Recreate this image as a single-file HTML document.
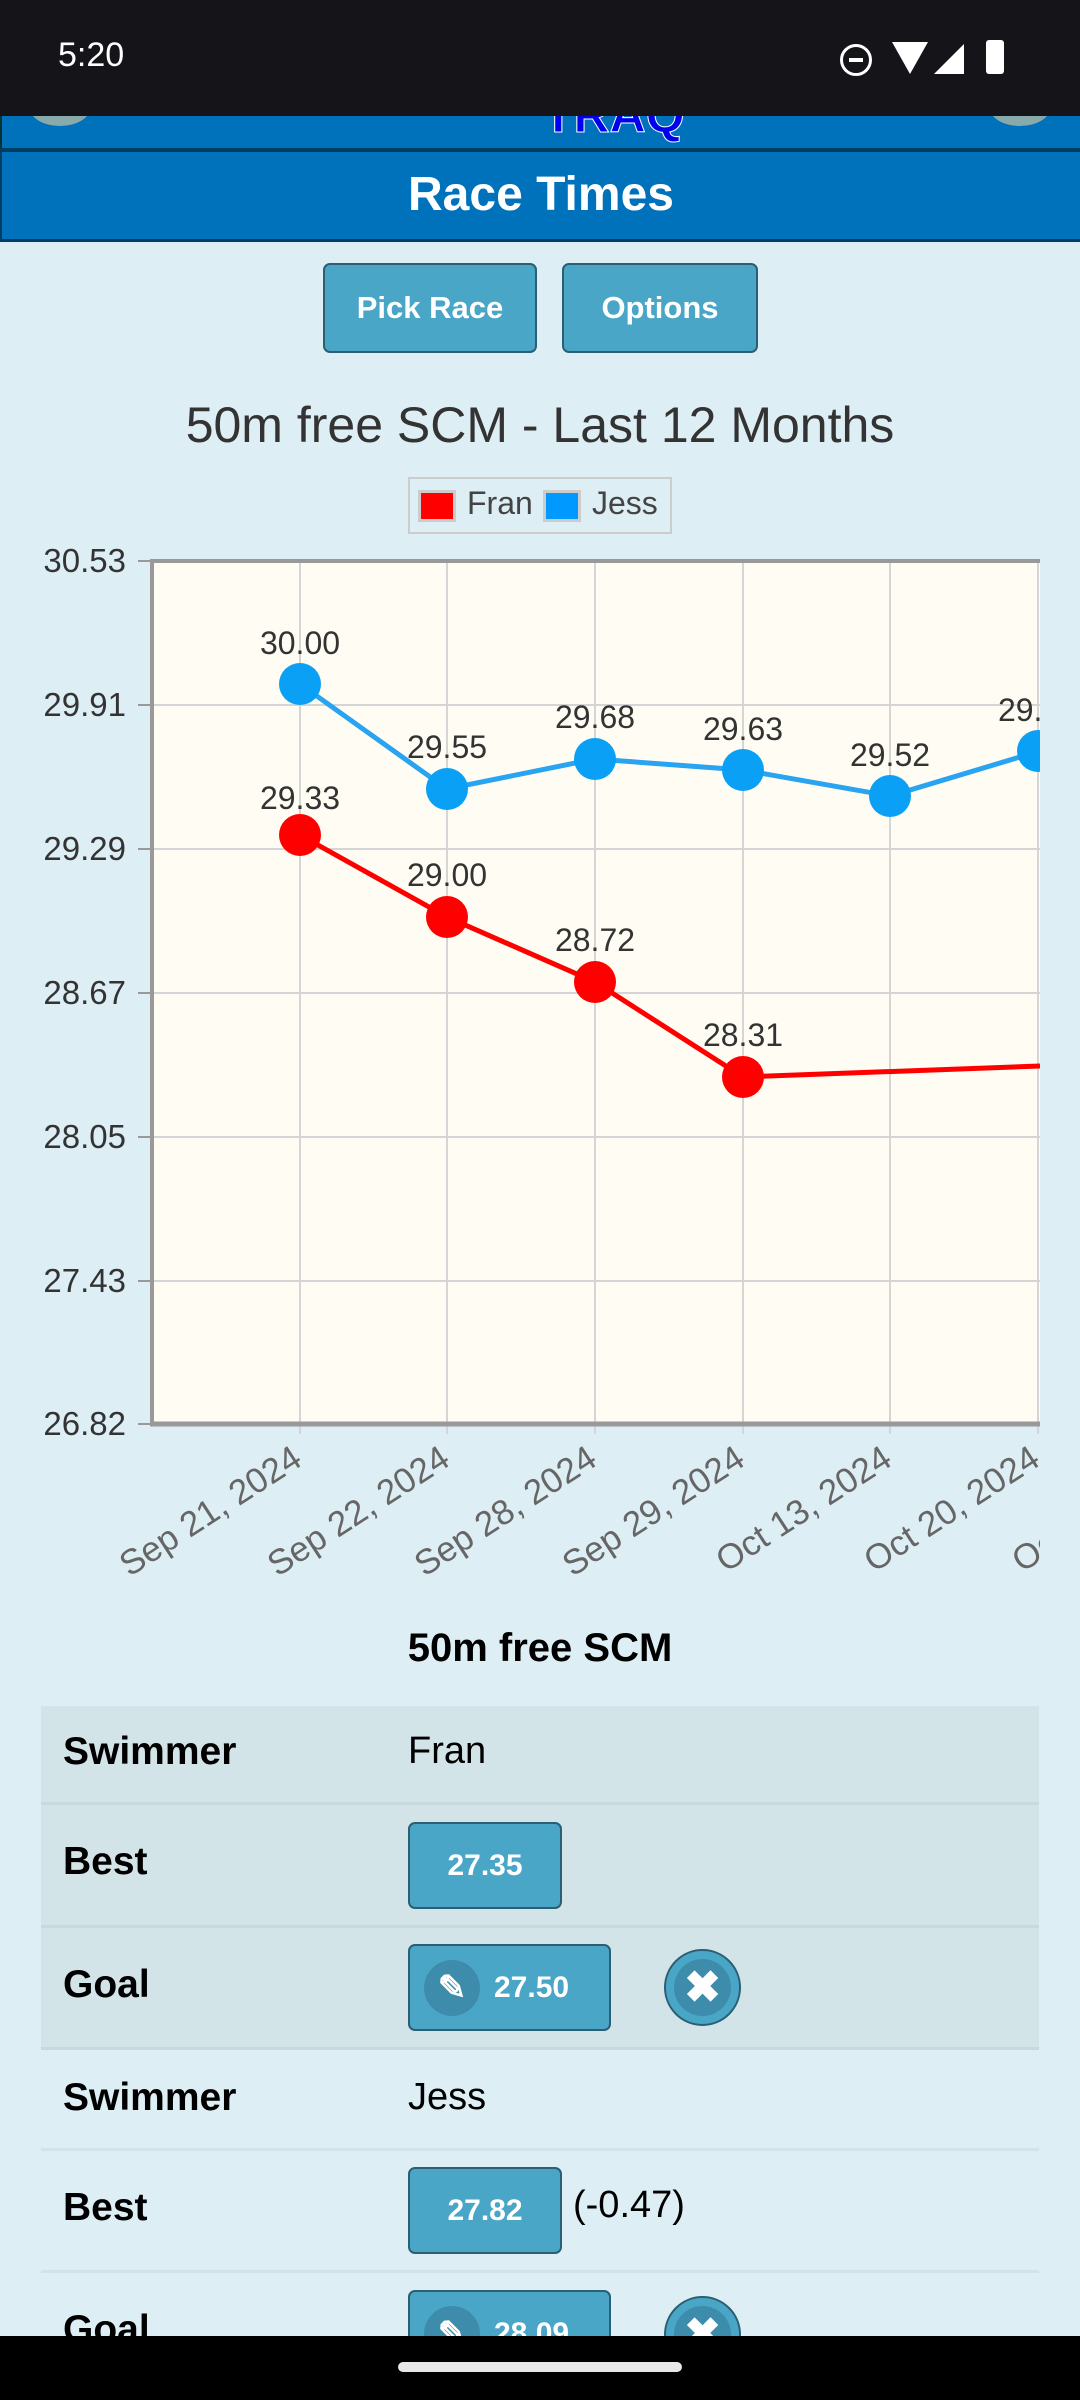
<!DOCTYPE html>
<html><head><meta charset="utf-8"><style>
*{margin:0;padding:0;box-sizing:border-box}
body{width:1080px;height:2400px;background:#deeef5;font-family:"Liberation Sans",sans-serif;position:relative;overflow:hidden}
.abs{position:absolute}
.btn{position:absolute;background:#4aa6c6;border:2px solid #2a5f74;border-radius:7px;color:#fff;font-weight:bold;display:flex;align-items:center;justify-content:center}
.lbl{position:absolute;left:63px;font-weight:bold;font-size:39px;color:#000}
.val{position:absolute;left:408px;font-size:38px;color:#000}
</style></head><body>
<div class="abs" style="left:0;top:116px;width:1080px;height:32px;background:#0072bc;border-left:2px solid #033;"></div>
<div class="abs" style="left:30px;top:90px;width:60px;height:36px;border-radius:50%;background:#8aa;"></div>
<div class="abs" style="left:990px;top:90px;width:60px;height:36px;border-radius:50%;background:#8aa;"></div>
<div class="abs" style="left:543px;top:86px;color:#0000ee;font-weight:bold;font-size:50px;-webkit-text-stroke:1px #fff">TRAQ</div>
<div class="abs" style="left:0;top:0;width:1080px;height:116px;background:#141419"></div>
<div class="abs" style="left:58px;top:36px;color:#fff;font-size:34px">5:20</div>
<div class="abs" style="left:840px;top:44px;width:32px;height:32px;border:3px solid #fff;border-radius:50%"></div>
<div class="abs" style="left:849px;top:58px;width:14px;height:4px;background:#fff"></div>
<div class="abs" style="left:892px;top:42px;width:0;height:0;border-left:18px solid transparent;border-right:18px solid transparent;border-top:32px solid #fff"></div>
<div class="abs" style="left:934px;top:44px;width:0;height:0;border-left:30px solid transparent;border-bottom:30px solid #fff"></div>
<div class="abs" style="left:986px;top:40px;width:18px;height:34px;background:#fff;border-radius:3px"></div>
<div class="abs" style="left:0;top:148px;width:1080px;height:4px;background:#003d63"></div>
<div class="abs" style="left:0;top:152px;width:1080px;height:90px;background:#0072bc;border-left:2px solid #003d63;border-bottom:3px solid #003d63;color:#fff;font-weight:bold;font-size:48px;text-align:center;line-height:86px">Race Times</div>
<div class="btn" style="left:323px;top:263px;width:214px;height:90px;font-size:31px">Pick Race</div>
<div class="btn" style="left:562px;top:263px;width:196px;height:90px;font-size:31px">Options</div>
<div class="abs" style="left:0;top:396px;width:1080px;text-align:center;font-size:50px;color:#333">50m free SCM - Last 12 Months</div>
<div class="abs" style="left:408px;top:477px;width:264px;height:57px;border:2px solid #ccc"></div>
<div class="abs" style="left:418px;top:490px;width:38px;height:32px;background:#f00;border:3px solid #ccc"></div>
<div class="abs" style="left:467px;top:485px;font-size:32px;color:#444">Fran</div>
<div class="abs" style="left:543px;top:490px;width:38px;height:32px;background:#09f;border:3px solid #ccc"></div>
<div class="abs" style="left:592px;top:485px;font-size:32px;color:#444">Jess</div>
<svg class="abs" style="left:0;top:0" width="1080" height="1600">
<defs><clipPath id="c"><rect x="0" y="0" width="1040" height="1600"/></clipPath></defs>
<rect x="152" y="561" width="888" height="863" fill="#fffcf3"/>
<g stroke="#d5d5d5" stroke-width="2">
<line x1="152" y1="705" x2="1040" y2="705"/><line x1="152" y1="849" x2="1040" y2="849"/><line x1="152" y1="993" x2="1040" y2="993"/><line x1="152" y1="1137" x2="1040" y2="1137"/><line x1="152" y1="1281" x2="1040" y2="1281"/>
<line x1="300" y1="561" x2="300" y2="1434"/><line x1="447" y1="561" x2="447" y2="1434"/><line x1="595" y1="561" x2="595" y2="1434"/><line x1="743" y1="561" x2="743" y2="1434"/><line x1="890" y1="561" x2="890" y2="1434"/><line x1="1038" y1="561" x2="1038" y2="1434"/>
</g>
<g stroke="#999" stroke-width="2">
<line x1="138" y1="561" x2="152" y2="561"/><line x1="138" y1="705" x2="152" y2="705"/><line x1="138" y1="849" x2="152" y2="849"/><line x1="138" y1="993" x2="152" y2="993"/><line x1="138" y1="1137" x2="152" y2="1137"/><line x1="138" y1="1281" x2="152" y2="1281"/><line x1="138" y1="1424" x2="152" y2="1424"/>
</g>
<line x1="152" y1="561" x2="1040" y2="561" stroke="#999" stroke-width="4"/>
<line x1="152" y1="559" x2="152" y2="1426" stroke="#999" stroke-width="4"/>
<line x1="150" y1="1424" x2="1040" y2="1424" stroke="#999" stroke-width="5"/>
<g font-size="33" fill="#333" text-anchor="end">
<text x="126" y="572">30.53</text><text x="126" y="716">29.91</text><text x="126" y="860">29.29</text><text x="126" y="1004">28.67</text><text x="126" y="1148">28.05</text><text x="126" y="1292">27.43</text><text x="126" y="1435">26.82</text>
</g>
<polyline points="300,684 447,789 595,759 743,770 890,796 1040,751" fill="none" stroke="#29a4f0" stroke-width="5"/>
<polyline points="300,835 447,917 595,982 743,1077 1040,1066" fill="none" stroke="#f00" stroke-width="5"/>
<g fill="#0aa0f5"><circle cx="300" cy="684" r="21"/><circle cx="447" cy="789" r="21"/><circle cx="595" cy="759" r="21"/><circle cx="743" cy="770" r="21"/><circle cx="890" cy="796" r="21"/><circle cx="1038" cy="751" r="21"/></g>
<g fill="#f00"><circle cx="300" cy="835" r="21"/><circle cx="447" cy="917" r="21"/><circle cx="595" cy="982" r="21"/><circle cx="743" cy="1077" r="21"/></g>
<rect x="1040" y="540" width="40" height="1000" fill="#deeef5"/>
<g font-size="32" fill="#333" text-anchor="middle" clip-path="url(#c)">
<text x="300" y="654">30.00</text><text x="447" y="758">29.55</text><text x="595" y="728">29.68</text><text x="743" y="740">29.63</text><text x="890" y="766">29.52</text><text x="1038" y="721">29.71</text>
<text x="300" y="809">29.33</text><text x="447" y="886">29.00</text><text x="595" y="951">28.72</text><text x="743" y="1046">28.31</text>
</g>
<g font-size="35" fill="#666" text-anchor="end" clip-path="url(#c)">
<text transform="translate(304,1464) rotate(-33)">Sep 21, 2024</text>
<text transform="translate(452,1464) rotate(-33)">Sep 22, 2024</text>
<text transform="translate(599,1464) rotate(-33)">Sep 28, 2024</text>
<text transform="translate(747,1464) rotate(-33)">Sep 29, 2024</text>
<text transform="translate(894,1464) rotate(-33)">Oct 13, 2024</text>
<text transform="translate(1042,1464) rotate(-33)">Oct 20, 2024</text>
<text transform="translate(1190,1464) rotate(-33)">Oct 27, 2024</text>
</g>
</svg>
<div class="abs" style="left:0;top:1626px;width:1080px;text-align:center;font-weight:bold;font-size:40px;color:#000">50m free SCM</div>
<div class="abs" style="left:41px;top:1706px;width:998px;height:342px;background:#d3e4e9"></div>
<div class="abs" style="left:41px;top:1802px;width:998px;height:3px;background:#c7d9df"></div>
<div class="abs" style="left:41px;top:1925px;width:998px;height:3px;background:#c7d9df"></div>
<div class="abs" style="left:41px;top:2047px;width:998px;height:3px;background:#c7d9df"></div>
<div class="abs" style="left:41px;top:2148px;width:998px;height:3px;background:#d3e4e9"></div>
<div class="abs" style="left:41px;top:2270px;width:998px;height:3px;background:#d3e4e9"></div>
<div class="lbl" style="top:1730px">Swimmer</div><div class="val" style="top:1730px">Fran</div>
<div class="lbl" style="top:1840px">Best</div>
<div class="btn" style="left:408px;top:1822px;width:154px;height:87px;font-size:30px">27.35</div>
<div class="lbl" style="top:1963px">Goal</div>
<div class="btn" style="left:408px;top:1944px;width:203px;height:87px;font-size:30px;justify-content:flex-start;padding-left:14px"><span style="width:56px;height:56px;border-radius:50%;background:#3d8cab;display:inline-flex;align-items:center;justify-content:center;font-size:34px;margin-right:14px">✎</span>27.50</div>
<div class="abs" style="left:664px;top:1949px;width:77px;height:77px;border-radius:50%;background:#4aa6c6;border:2px solid #2a5f74;display:flex;align-items:center;justify-content:center"><div style="width:57px;height:57px;border-radius:50%;background:#3d8cab;color:#fff;font-weight:bold;font-size:44px;text-align:center;line-height:57px">✖</div></div>
<div class="lbl" style="top:2076px">Swimmer</div><div class="val" style="top:2076px">Jess</div>
<div class="lbl" style="top:2186px">Best</div>
<div class="btn" style="left:408px;top:2167px;width:154px;height:87px;font-size:30px">27.82</div>
<div class="val" style="left:573px;top:2184px">(-0.47)</div>
<div class="lbl" style="top:2308px">Goal</div>
<div class="btn" style="left:408px;top:2290px;width:203px;height:87px;font-size:30px;justify-content:flex-start;padding-left:14px"><span style="width:56px;height:56px;border-radius:50%;background:#3d8cab;display:inline-flex;align-items:center;justify-content:center;font-size:34px;margin-right:14px">✎</span>28.09</div>
<div class="abs" style="left:664px;top:2296px;width:77px;height:77px;border-radius:50%;background:#4aa6c6;border:2px solid #2a5f74;display:flex;align-items:center;justify-content:center"><div style="width:57px;height:57px;border-radius:50%;background:#3d8cab;color:#fff;font-weight:bold;font-size:44px;text-align:center;line-height:57px">✖</div></div>
<div class="abs" style="left:0;top:2336px;width:1080px;height:64px;background:#000"></div>
<div class="abs" style="left:398px;top:2362px;width:284px;height:10px;border-radius:5px;background:#e8e8e8"></div>
</body></html>
